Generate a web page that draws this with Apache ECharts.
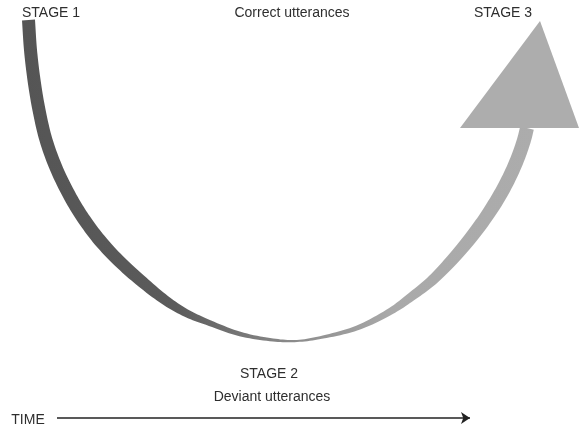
<!DOCTYPE html>
<html>
<head>
<meta charset="utf-8">
<script src="https://cdn.jsdelivr.net/npm/echarts@6/dist/echarts.min.js"></script>
<style>
html, body { margin: 0; padding: 0; background: #fff; }
#main { width: 581px; height: 426px; }
</style>
</head>
<body>
<div id="main"></div>
<script>
var curveX = [28.5, 30.5, 34, 39, 46, 57, 72, 84.5, 99.5, 118, 140, 165, 186, 207, 240, 273, 297,
              323, 357, 391, 411, 432.5, 452, 469, 484, 497, 508, 517, 524, 527];
var curveY = [20, 50, 80, 110, 140, 170, 200, 220, 240, 260, 280, 300, 313, 322, 334, 340, 341,
              337, 328, 311, 297, 280, 260, 240, 220, 200, 180, 160, 140, 128];
var curveW = [13, 13, 13, 13, 13, 13, 13, 13, 13, 12.5, 12, 10, 8, 6, 4.5, 3, 2,
              3, 5, 7, 9, 10.5, 12, 13, 13.5, 14, 14, 14, 14, 14];

// arrow head at stage 3
var headX = [460, 540, 579];
var headY = [128, 21, 128];

// time axis arrow
var timeX = [57, 470];
var timeY = [418, 418];

var stageLabels = ['STAGE 1', 'STAGE 2', 'STAGE 3'];
var uttLabels = ['Correct utterances', 'Deviant utterances'];
var timeLabel = 'TIME';

var chart = echarts.init(document.getElementById('main'));

var curveFill = {
    type: 'linear', x: 22, y: 0, x2: 535, y2: 0, global: true,
    colorStops: [
        {offset: 0, color: '#555555'},
        {offset: 0.3, color: '#5b5b5b'},
        {offset: 0.52, color: '#8a8a8a'},
        {offset: 0.72, color: '#a9a9a9'},
        {offset: 1, color: '#acacac'}
    ]
};

// centripetal catmull-rom point between p1 and p2
function crPoint(p0, p1, p2, p3, u) {
    function tj(ti, a, b) {
        var dx = b[0] - a[0], dy = b[1] - a[1];
        return ti + Math.max(Math.pow(dx * dx + dy * dy, 0.25), 1e-4);
    }
    var t0 = 0, t1 = tj(t0, p0, p1), t2 = tj(t1, p1, p2), t3 = tj(t2, p2, p3);
    var t = t1 + (t2 - t1) * u;
    function lerp(a, b, ta, tb) {
        return [(tb - t) / (tb - ta) * a[0] + (t - ta) / (tb - ta) * b[0],
                (tb - t) / (tb - ta) * a[1] + (t - ta) / (tb - ta) * b[1]];
    }
    var A1 = lerp(p0, p1, t0, t1), A2 = lerp(p1, p2, t1, t2), A3 = lerp(p2, p3, t2, t3);
    var B1 = lerp(A1, A2, t0, t2), B2 = lerp(A2, A3, t1, t3);
    return lerp(B1, B2, t1, t2);
}

function renderCurve(params, api) {
    var pts = [];
    for (var i = 0; i < curveX.length; i++) {
        pts.push(api.coord([curveX[i], curveY[i]]));
    }
    var n = pts.length;
    // mirror the end points so the first and last spans have neighbours
    var first = [2 * pts[0][0] - pts[1][0], 2 * pts[0][1] - pts[1][1]];
    var last = [2 * pts[n - 1][0] - pts[n - 2][0], 2 * pts[n - 1][1] - pts[n - 2][1]];
    var dense = [], ws = [];
    for (var i = 0; i < n - 1; i++) {
        var p0 = i === 0 ? first : pts[i - 1], p3 = i + 2 >= n ? last : pts[i + 2];
        for (var s = 0; s < 10; s++) {
            dense.push(crPoint(p0, pts[i], pts[i + 1], p3, s / 10));
            ws.push(curveW[i] + (curveW[i + 1] - curveW[i]) * s / 10);
        }
    }
    dense.push(pts[n - 1]);
    ws.push(curveW[n - 1]);

    var left = [], right = [];
    for (var k = 0; k < dense.length; k++) {
        var a = dense[Math.max(k - 1, 0)], b = dense[Math.min(k + 1, dense.length - 1)];
        var tx = b[0] - a[0], ty = b[1] - a[1];
        var len = Math.sqrt(tx * tx + ty * ty) || 1;
        var nx = -ty / len, ny = tx / len;
        var h = ws[k] / 2;
        left.push([dense[k][0] + nx * h, dense[k][1] + ny * h]);
        right.push([dense[k][0] - nx * h, dense[k][1] - ny * h]);
    }
    return {
        type: 'polygon',
        shape: {points: left.concat(right.reverse())},
        style: {fill: curveFill}
    };
}

function renderHead(params, api) {
    var pts = [];
    for (var i = 0; i < headX.length; i++) {
        pts.push(api.coord([headX[i], headY[i]]));
    }
    return {
        type: 'polygon',
        shape: {points: pts},
        style: {fill: '#adadad'}
    };
}

var textStyle = function (txt, x, y, size) {
    return {
        type: 'text',
        x: x, y: y,
        style: {
            text: txt,
            font: size + 'px "Liberation Sans", Arial, sans-serif',
            fill: '#2e2e2e',
            align: 'center',
            verticalAlign: 'middle'
        }
    };
};

chart.setOption({
    animation: false,
    grid: {left: 0, right: 0, top: 0, bottom: 0},
    xAxis: {type: 'value', min: 0, max: 581, show: false},
    yAxis: {type: 'value', min: 0, max: 426, inverse: true, show: false},
    series: [
        {
            type: 'custom',
            renderItem: renderCurve,
            data: [0],
            clip: false,
            silent: true
        },
        {
            type: 'custom',
            renderItem: renderHead,
            data: [0],
            clip: false,
            silent: true
        },
        {
            type: 'lines',
            coordinateSystem: 'cartesian2d',
            symbol: ['none', 'arrow'],
            symbolSize: 9,
            lineStyle: {color: '#222', width: 1.5, opacity: 1},
            data: [{coords: [[timeX[0], timeY[0]], [timeX[1], timeY[1]]]}],
            silent: true
        }
    ],
    graphic: [
        textStyle(stageLabels[0], 51, 13, 14),
        textStyle(uttLabels[0], 292, 13, 14),
        textStyle(stageLabels[2], 503, 13, 14),
        textStyle(stageLabels[1], 269, 374, 14),
        textStyle(uttLabels[1], 272, 397, 14),
        textStyle(timeLabel, 28, 420, 14)
    ]
});

window.onresize = function () {
    chart.resize();
};
</script>
</body>
</html>
